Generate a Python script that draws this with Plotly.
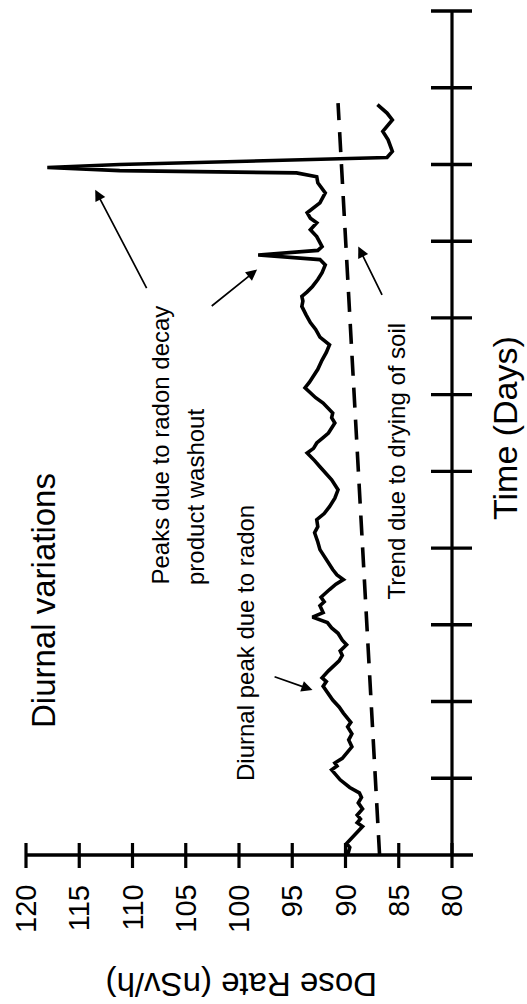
import plotly.graph_objects as go

# Gamma dose rate record: elapsed time (days) and dose rate (nSv/h)
time_days = [
    0.00, 0.10, 0.15, 0.25, 0.37, 0.42, 0.47, 0.52, 0.60, 0.68, 0.75, 0.81,
    0.88, 0.98, 1.11, 1.16, 1.20, 1.26, 1.33, 1.41, 1.50, 1.58, 1.67, 1.73,
    1.85, 1.93, 2.02, 2.11, 2.20, 2.26, 2.31, 2.40, 2.47, 2.53, 2.60, 2.66,
    2.74, 2.80, 2.89, 2.96, 3.03, 3.10, 3.16, 3.25, 3.30, 3.36, 3.46, 3.53,
    3.59, 3.65, 3.72, 3.80, 3.88, 3.98, 4.08, 4.20, 4.28, 4.37, 4.45, 4.54,
    4.65, 4.76, 4.89, 4.96, 5.06, 5.14, 5.24, 5.30, 5.37, 5.44, 5.50, 5.63,
    5.70, 5.76, 5.83, 5.89, 5.96, 6.02, 6.09, 6.16, 6.23, 6.33, 6.45, 6.55,
    6.65, 6.75, 6.85, 6.94, 7.04, 7.15, 7.22, 7.28, 7.34, 7.41, 7.50, 7.59,
    7.69, 7.76, 7.82, 7.88, 7.93, 8.06, 8.15, 8.24, 8.30, 8.37, 8.50, 8.63,
    8.76, 8.84, 8.89, 8.92, 8.96, 9.00, 9.09, 9.17, 9.32, 9.43, 9.58, 9.67,
    9.78,
]
dose_rate = [
    89.8, 89.6, 89.9, 89.2, 88.4, 88.9, 88.6, 88.9, 88.4, 88.8, 88.5, 88.7,
    89.6, 90.5, 91.3, 90.8, 91.0, 90.3, 89.9, 89.4, 89.7, 89.4, 89.8, 89.5,
    90.2, 90.6, 91.2, 91.6, 92.1, 91.8, 92.2, 91.6, 91.0, 90.6, 90.3, 90.5,
    89.9, 90.3, 90.7, 91.3, 91.7, 93.1, 92.1, 92.4, 92.0, 92.3, 91.5, 90.9,
    90.2, 90.8, 91.2, 91.6, 92.0, 92.4, 92.6, 92.9, 92.6, 92.7, 92.0, 91.5,
    91.0, 90.7, 91.3, 91.8, 92.4, 92.9, 93.6, 93.0, 92.7, 92.1, 91.6, 91.0,
    91.3, 91.2, 91.7, 92.1, 92.8, 93.3, 93.8, 93.4, 93.1, 92.6, 92.2, 91.8,
    91.5, 92.4, 92.8, 93.3, 93.7, 94.1, 94.0, 94.1, 93.6, 93.1, 92.6, 92.2,
    91.9, 92.4, 98.2, 92.6, 92.2, 92.7, 93.3, 92.7, 93.3, 93.6, 92.4, 91.9,
    92.6, 92.7, 94.6, 111.2, 118.0, 111.2, 86.1, 85.6, 86.0, 86.5, 85.6, 86.1,
    87.0,
]

# Soil-drying trend line
trend_days = [0.0, 9.8]
trend_dose = [86.8, 90.7]

# Axis ticks
dose_ticks = [120, 115, 110, 105, 100, 95, 90, 85, 80]
dose_tick_text = ["120", "115", "110", "105", "100", "95", "90", "85", "80"]
day_ticks = [1, 2, 3, 4, 5, 6, 7, 8, 9, 10, 11]

X_RANGE = [120, 80]
Y_RANGE = [0, 11]

W, H = 527, 1004
M_L, M_R, M_T, M_B = 26, 75, 11, 149
PW, PH = W - M_L - M_R, H - M_T - M_B

FONT = "Liberation Sans, Arial, Helvetica, sans-serif"
INK = "black"


def xp(px):
    """Pixel column -> paper x."""
    return (px - M_L) / PW


def yp(py):
    """Pixel row -> paper y."""
    return (H - M_B - py) / PH


def dose_to_paper(d):
    return (d - X_RANGE[0]) / (X_RANGE[1] - X_RANGE[0])


def day_to_paper(t):
    return (t - Y_RANGE[0]) / (Y_RANGE[1] - Y_RANGE[0])


fig = go.Figure()

fig.add_trace(go.Scatter(
    x=dose_rate, y=time_days, mode="lines",
    line=dict(color=INK, width=3.6), showlegend=False, hoverinfo="skip",
))
fig.add_trace(go.Scatter(
    x=trend_dose, y=trend_days, mode="lines",
    line=dict(color=INK, width=3.6, dash="20px,12px"),
    showlegend=False, hoverinfo="skip",
))

shapes = []
# Dose-rate axis line (runs a little past the time axis)
shapes.append(dict(type="line", xref="paper", yref="paper",
                   x0=0, x1=xp(473), y0=0, y1=0,
                   line=dict(color=INK, width=3.5)))
# Time axis line
shapes.append(dict(type="line", xref="paper", yref="paper",
                   x0=1, x1=1, y0=0, y1=1,
                   line=dict(color=INK, width=3.2)))
# Crossing ticks on the dose-rate axis
for d in dose_ticks:
    xx = dose_to_paper(d)
    shapes.append(dict(type="line", xref="paper", yref="paper",
                       x0=xx, x1=xx, y0=yp(868), y1=yp(843),
                       line=dict(color=INK, width=3.2)))
# Crossing ticks on the time axis
for t in day_ticks:
    yy = day_to_paper(t)
    shapes.append(dict(type="line", xref="paper", yref="paper",
                       x0=xp(431), x1=xp(472), y0=yy, y1=yy,
                       line=dict(color=INK, width=3.4)))

annotations = []


def label(text, cx, cy, size, angle, xanchor="center", yanchor="middle"):
    annotations.append(dict(
        text=text, xref="paper", yref="paper", x=xp(cx), y=yp(cy),
        xanchor=xanchor, yanchor=yanchor, textangle=angle, showarrow=False,
        font=dict(family=FONT, size=size, color=INK),
    ))


# Dose-rate tick labels, written upward below the axis
for d, txt in zip(dose_ticks, dose_tick_text):
    annotations.append(dict(
        text=txt, xref="paper", yref="paper", x=dose_to_paper(d), y=yp(883),
        xanchor="center", yanchor="top", textangle=-90, showarrow=False,
        font=dict(family=FONT, size=29, color=INK),
    ))

label("Diurnal variations", 43, 601, 33, -90)
label("Peaks due to radon decay", 160, 587, 24, -90, yanchor="bottom")
label("product washout", 195, 587, 24, -90, yanchor="bottom")
label("Diurnal peak due to radon", 245, 783, 24, -90, yanchor="bottom")
label("Trend due to drying of soil", 396, 602, 24, -90, yanchor="bottom")
label("Time (Days)", 505, 428, 34, -90)
label("Dose Rate (nSv/h)", 241, 985, 33, 180)


def arrow(head_dose, head_day, tail_dose, tail_day):
    annotations.append(dict(
        text="", x=head_dose, y=head_day, xref="x", yref="y",
        ax=tail_dose, ay=tail_day, axref="x", ayref="y",
        showarrow=True, arrowhead=2, arrowsize=1.3, arrowwidth=1.7,
        arrowcolor=INK, standoff=0,
    ))


arrow(113.5, 8.67, 108.6, 7.37)   # large washout peak
arrow(98.3, 7.63, 102.7, 7.14)    # smaller washout peak
arrow(88.8, 7.93, 86.5, 7.28)     # trend line
arrow(93.1, 2.15, 96.8, 2.33)     # diurnal peak

fig.update_layout(
    width=W, height=H, autosize=False,
    margin=dict(l=M_L, r=M_R, t=M_T, b=M_B, pad=0),
    paper_bgcolor="white", plot_bgcolor="white",
    shapes=shapes, annotations=annotations,
    xaxis=dict(range=X_RANGE, showticklabels=False, ticks="",
               showgrid=False, zeroline=False, showline=False, fixedrange=True),
    yaxis=dict(range=Y_RANGE, showticklabels=False, ticks="",
               showgrid=False, zeroline=False, showline=False, fixedrange=True),
)

fig.write_html("out.html")
